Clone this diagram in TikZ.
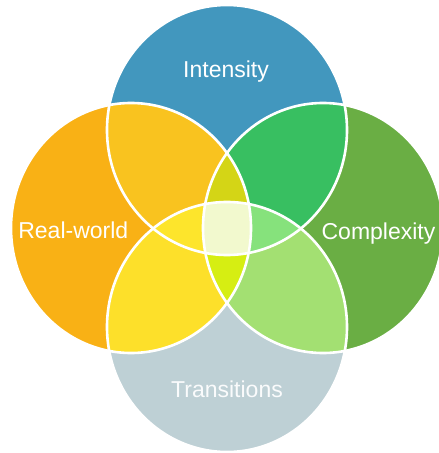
\documentclass[tikz,border=0pt]{standalone}
\usepackage{xcolor}
\usepackage{fontspec}
\setmainfont{Liberation Sans}
\usepackage{tikz}

\definecolor{cTop}{HTML}{4297BE}
\definecolor{cLeft}{HTML}{F9B115}
\definecolor{cRight}{HTML}{6AAE44}
\definecolor{cBot}{HTML}{BED0D5}
\definecolor{cTL}{HTML}{F9C31F}
\definecolor{cTR}{HTML}{38BF61}
\definecolor{cBL}{HTML}{FDE02A}
\definecolor{cBR}{HTML}{A3E072}
\definecolor{cTBL}{HTML}{FDE52C}
\definecolor{cTBR}{HTML}{86E27C}
\definecolor{cLRT}{HTML}{D4D516}
\definecolor{cLRB}{HTML}{D6EE12}
\definecolor{cAll}{HTML}{F2F9CE}

\newcommand{\topE}{(227,130) ellipse (120pt and 125pt)}
\newcommand{\botE}{(227,327) ellipse (120pt and 125pt)}
\newcommand{\leftE}{(131,228) ellipse (120pt and 125pt)}
\newcommand{\rightE}{(323,228) ellipse (120pt and 125pt)}

\tikzset{rim/.style={draw=white, line width=2.6pt},
	lbl/.style={text=white, anchor=base, inner sep=0pt, font=\fontsize{23}{23}\selectfont}}

\begin{document}
\begin{tikzpicture}[x=1pt,y=-1pt]
		\useasboundingbox (0,0) rectangle (439,453);
		\fill[cTop] \topE; \fill[cBot] \botE; \fill[cLeft] \leftE; \fill[cRight] \rightE;
		
		% pairs
		\begin{scope} \clip \topE; \fill[cTL] \leftE; \fill[cTR] \rightE; \end{scope}
		\begin{scope} \clip \botE; \fill[cBL] \leftE; \fill[cBR] \rightE; \end{scope}
		% triples
		\begin{scope} \clip \topE; \clip \botE; \fill[cTBL] \leftE; \fill[cTBR] \rightE; \end{scope}
		\begin{scope} \clip \leftE; \clip \rightE; \fill[cLRT] \topE; \fill[cLRB] \botE; \end{scope}
		\begin{scope} \clip \leftE; \clip \rightE; \clip \topE; \fill[cAll] \botE; \end{scope}
		
		\draw[rim] \topE; \draw[rim] \botE; \draw[rim] \leftE; \draw[rim] \rightE;
		
		\node[lbl] (intensity) at (226,77) {Intensity};
		\node[lbl] (realworld) at (73.3,238.5) {Real-world};
		\node[lbl] (complexity) at (378.5,239.5) {Complexity};
		\node[lbl, text=white!92!cBot] (transitions) at (227,397.7) {Transitions};
	\end{tikzpicture}
\end{document}
